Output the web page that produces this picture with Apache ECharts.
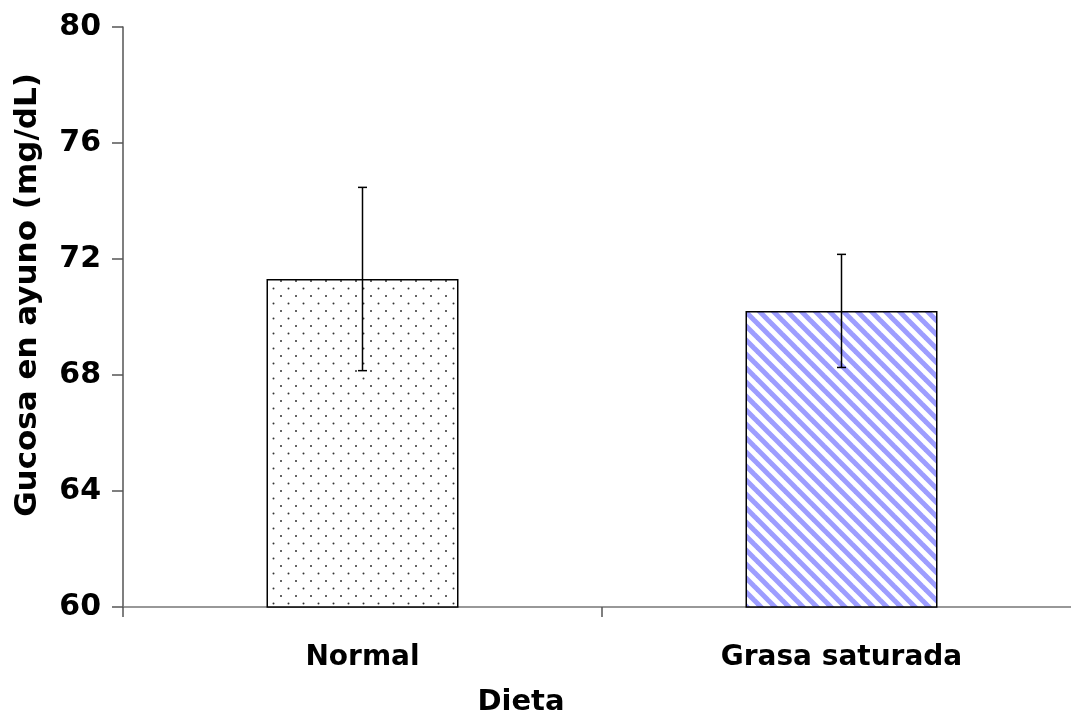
<!DOCTYPE html>
<html>
<head>
<meta charset="utf-8">
<script src="https://cdn.jsdelivr.net/npm/echarts@6/dist/echarts.min.js"></script>
<style>
html,body{margin:0;padding:0;background:#fff;}
#chart{width:1071px;height:722px;}
</style>
</head>
<body>
<div id="chart"></div>
<script>
const categories = ['Normal', 'Grasa saturada'];
const means = [71.31, 70.21];
const errors = [3.16, 1.95];
const yMin = 60, yMax = 80, yInterval = 4;

function dotPattern() {
  const c = document.createElement('canvas');
  c.width = 15; c.height = 15;
  const g = c.getContext('2d');
  g.fillStyle = '#fff'; g.fillRect(0, 0, 15, 15);
  g.fillStyle = '#333';
  g.beginPath(); g.arc(3.5, 3.5, 1.0, 0, Math.PI * 2); g.fill();
  g.beginPath(); g.arc(11, 11, 1.0, 0, Math.PI * 2); g.fill();
  return c;
}
function stripePattern() {
  const P = 14;
  const c = document.createElement('canvas');
  c.width = P; c.height = P;
  const g = c.getContext('2d');
  g.fillStyle = '#fff'; g.fillRect(0, 0, P, P);
  g.strokeStyle = '#9d9dff';
  g.lineWidth = 5;
  for (let k = -1; k <= 1; k++) {
    g.beginPath();
    g.moveTo(k * P - 2, -2);
    g.lineTo(k * P + P + 2, P + 2);
    g.stroke();
  }
  return c;
}
const patterns = [dotPattern(), stripePattern()];

const font = '"DejaVu Sans", "Liberation Sans", Arial, sans-serif';
const chart = echarts.init(document.getElementById('chart'));
chart.setOption({
  animation: false,
  backgroundColor: '#fff',
  grid: { left: 123, top: 27, width: 958, height: 580, containLabel: false, outerBoundsMode: 'none' },
  xAxis: {
    type: 'category',
    data: categories,
    name: 'Dieta',
    nameLocation: 'middle',
    nameGap: 81,
    nameTextStyle: { fontFamily: font, fontWeight: 'bold', fontSize: 29, color: '#000', padding: [0, 162, 0, 0] },
    axisLine: { lineStyle: { color: '#777', width: 1.5 } },
    axisTick: { show: true, length: 10, lineStyle: { color: '#555', width: 1.5 } },
    axisLabel: { margin: 37, fontFamily: font, fontWeight: 'bold', fontSize: 28, color: '#000' }
  },
  yAxis: {
    type: 'value',
    min: yMin, max: yMax, interval: yInterval,
    name: 'Gucosa en ayuno (mg/dL)',
    nameLocation: 'middle',
    nameGap: 80,
    nameTextStyle: { fontFamily: font, fontWeight: 'bold', fontSize: 31, color: '#000', padding: [0, 0, 0, 44] },
    axisLine: { show: true, lineStyle: { color: '#555', width: 1.5 } },
    axisTick: { show: true, length: 11, lineStyle: { color: '#555', width: 1.5 } },
    axisLabel: { margin: 22, fontFamily: font, fontWeight: 'bold', fontSize: 30, color: '#000' },
    splitLine: { show: false }
  },
  series: [
    {
      type: 'bar',
      barWidth: 192,
      data: means.map((v, i) => ({
        value: v,
        itemStyle: { color: { image: patterns[i], repeat: 'repeat' }, borderColor: '#000', borderWidth: 1.5 }
      })),
      z: 2
    },
    {
      type: 'custom',
      z: 5,
      data: means.map((v, i) => [i, v - errors[i], v + errors[i]]),
      renderItem: function (params, api) {
        const x = api.value(0);
        const lo = api.coord([x, api.value(1)]);
        const hi = api.coord([x, api.value(2)]);
        const w = 4.5;
        const st = { stroke: '#000', lineWidth: 1.5 };
        return {
          type: 'group',
          children: [
            { type: 'line', shape: { x1: hi[0], y1: hi[1], x2: lo[0], y2: lo[1] }, style: st },
            { type: 'line', shape: { x1: hi[0] - w, y1: hi[1], x2: hi[0] + w, y2: hi[1] }, style: st },
            { type: 'line', shape: { x1: lo[0] - w, y1: lo[1], x2: lo[0] + w, y2: lo[1] }, style: st }
          ]
        };
      }
    }
  ]
});
</script>
</body>
</html>
